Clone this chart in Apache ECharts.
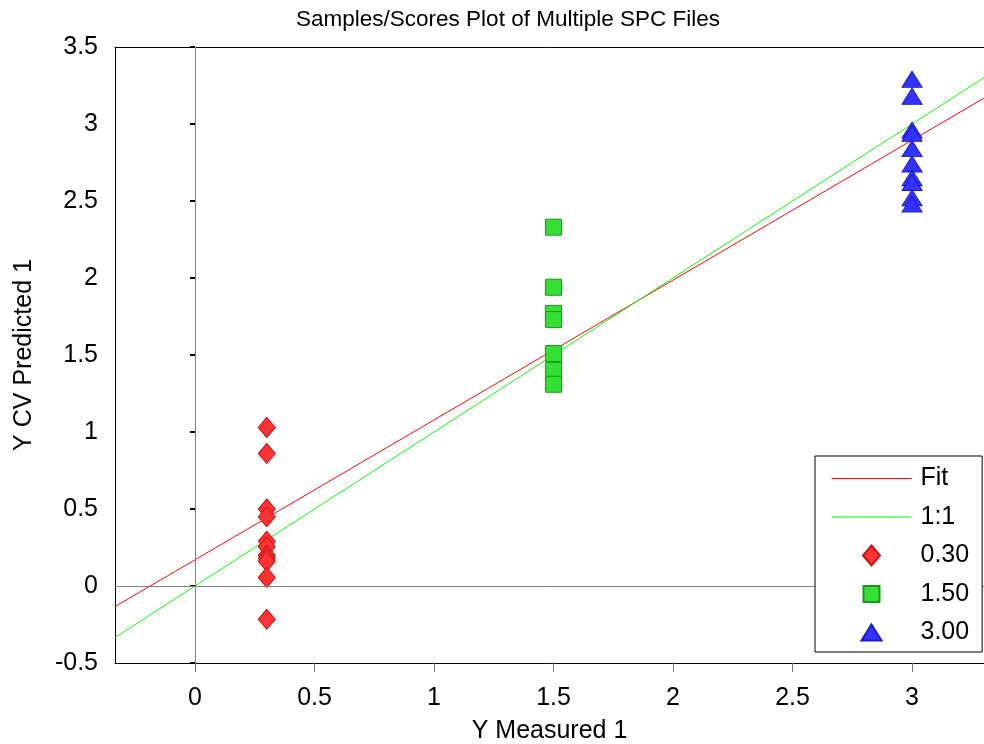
<!DOCTYPE html>
<html>
<head>
<meta charset="utf-8">
<title>Samples/Scores Plot of Multiple SPC Files</title>
<script src="https://cdn.jsdelivr.net/npm/echarts@6/dist/echarts.min.js"></script>
<style>
  html, body { margin: 0; padding: 0; background: #fff; }
  #chart { width: 984px; height: 744px; }
</style>
</head>
<body>
<div id="chart"></div>
<script>
// Axis ranges and tick labels
const xRange = [-0.335, 3.301];
const yRange = [-0.5, 3.5];
const xTicks = [0, 0.5, 1, 1.5, 2, 2.5, 3];

// Measured values for each sample group
const groupNames = ['0.30', '1.50', '3.00'];
const groupX = [0.3, 1.5, 3.0];
const predicted030 = [1.03, 0.86, 0.50, 0.45, 0.29, 0.255, 0.20, 0.18, 0.16, 0.056, -0.216];
const predicted150 = [2.33, 1.94, 1.77, 1.73, 1.51, 1.40, 1.31];
const predicted300 = [3.29, 3.18, 2.96, 2.94, 2.84, 2.74, 2.65, 2.62, 2.52, 2.48];

// Regression fit and identity line end points
const fitLine = [[-0.335, -0.134], [3.301, 3.168]];
const identityLine = [[-0.335, -0.335], [3.301, 3.301]];

const FONT = '"Liberation Sans", Arial, sans-serif';

function pairs(x, ys) { return ys.map(function (y) { return [x, y]; }); }

// Marker shapes. Legend icons are paths inside a 20x20 frame (zero-length
// corner segments pin the frame) so each keeps its plotted size.
const markerStyles = [
  { symbol: 'diamond', size: [17, 20], fill: '#ff3333', border: '#cc1111',
    icon: 'path://M1.5,0L1.5,0M18.5,20L18.5,20M10,0L18.5,10L10,20L1.5,10Z' },
  { symbol: 'rect', size: [16, 16], fill: '#33e033', border: '#169916',
    icon: 'path://M0,0L0,0M20,20L20,20M2,2L18,2L18,18L2,18Z' },
  { symbol: 'triangle', size: [20, 16], fill: '#3333ff', border: '#1a1acc',
    icon: 'path://M0,0L0,0M20,20L20,20M10,2L20,18L0,18Z' }
];
const groupValues = [predicted030, predicted150, predicted300];

const scatterSeries = groupNames.map(function (name, i) {
  const m = markerStyles[i];
  return {
    name: name,
    type: 'scatter',
    z: 4,
    symbol: m.symbol,
    symbolSize: m.size,
    itemStyle: { color: m.fill, borderColor: m.border, borderWidth: 1, opacity: 1 },
    emphasis: { disabled: true },
    data: pairs(groupX[i], groupValues[i])
  };
});

const legendData = [
  { name: 'Fit', itemStyle: { opacity: 0 }, lineStyle: { width: 1 } },
  { name: '1:1', itemStyle: { opacity: 0 }, lineStyle: { width: 1 } }
].concat(groupNames.map(function (name, i) {
  return { name: name, icon: markerStyles[i].icon };
}));

const chart = echarts.init(document.getElementById('chart'), null, { renderer: 'canvas' });

chart.setOption({
  animation: false,
  backgroundColor: '#ffffff',
  textStyle: { fontFamily: FONT, color: '#000' },
  title: {
    text: 'Samples/Scores Plot of Multiple SPC Files',
    left: 508,
    top: 8,
    textAlign: 'center',
    padding: 0,
    textStyle: { fontFamily: FONT, fontSize: 22.5, fontWeight: 'normal', color: '#000' }
  },
  legend: {
    orient: 'vertical',
    left: 815,
    top: 456,
    padding: [10, 13, 7, 16],
    itemGap: 13.5,
    itemWidth: 80,
    itemHeight: 20,
    symbolKeepAspect: true,
    borderColor: '#000',
    borderWidth: 1,
    borderRadius: 0,
    backgroundColor: '#fff',
    z: 10,
    data: legendData,
    textStyle: { fontFamily: FONT, fontSize: 25, color: '#000', padding: [0, 0, 0, 4] }
  },
  grid: { left: 115, top: 47, right: 0, bottom: 81, containLabel: false, outerBoundsMode: 'none' },
  xAxis: [
    {
      type: 'value',
      min: xRange[0],
      max: xRange[1],
      name: 'Y Measured 1',
      nameLocation: 'middle',
      nameGap: 56,
      nameTextStyle: { fontFamily: FONT, fontSize: 25, color: '#000' },
      splitLine: { show: false },
      axisLine: { show: true, onZero: false, lineStyle: { color: '#000', width: 1 } },
      axisTick: { show: true, length: 9, customValues: xTicks, lineStyle: { color: '#777', width: 1 } },
      axisLabel: {
        customValues: xTicks,
        margin: 23,
        fontFamily: FONT, fontSize: 25, color: '#000',
        formatter: function (v) { return String(v); }
      }
    },
    {
      type: 'value',
      position: 'top',
      min: xRange[0],
      max: xRange[1],
      splitLine: { show: false },
      axisLine: { show: true, onZero: false, lineStyle: { color: '#000', width: 1 } },
      axisTick: { show: false },
      axisLabel: { show: false }
    }
  ],
  yAxis: [
    {
      type: 'value',
      min: yRange[0],
      max: yRange[1],
      interval: 0.5,
      name: 'Y CV Predicted 1',
      nameLocation: 'middle',
      nameGap: 78,
      nameRotate: 90,
      nameTextStyle: { fontFamily: FONT, fontSize: 25, color: '#000' },
      splitLine: { show: false },
      axisLine: { show: true, onZero: false, lineStyle: { color: '#000', width: 1 } },
      axisTick: { show: false },
      axisLabel: { margin: 17, fontFamily: FONT, fontSize: 25, color: '#000' }
    },
    {
      // short detached tick marks left of the axis
      type: 'value',
      position: 'left',
      offset: 5,
      min: yRange[0],
      max: yRange[1],
      interval: 0.5,
      splitLine: { show: false },
      axisLine: { show: false },
      axisTick: { show: true, length: 5, lineStyle: { color: '#000', width: 2 } },
      axisLabel: { show: false }
    }
  ],
  series: [
    {
      // zero reference lines
      name: 'zero',
      type: 'line',
      z: 1,
      data: [],
      silent: true,
      markLine: {
        silent: true,
        symbol: ['none', 'none'],
        label: { show: false },
        animation: false,
        lineStyle: { color: '#808080', width: 1, type: 'solid' },
        emphasis: { disabled: true },
        data: [{ xAxis: 0 }, { yAxis: 0 }]
      }
    },
    {
      name: 'Fit',
      type: 'line',
      z: 3,
      symbol: 'none',
      color: '#ff0000',
      lineStyle: { color: '#ff0000', width: 1 },
      emphasis: { disabled: true },
      data: fitLine
    },
    {
      name: '1:1',
      type: 'line',
      z: 3,
      symbol: 'none',
      color: '#00ff00',
      lineStyle: { color: '#00ff00', width: 1 },
      emphasis: { disabled: true },
      data: identityLine
    }
  ].concat(scatterSeries)
});
</script>
</body>
</html>
